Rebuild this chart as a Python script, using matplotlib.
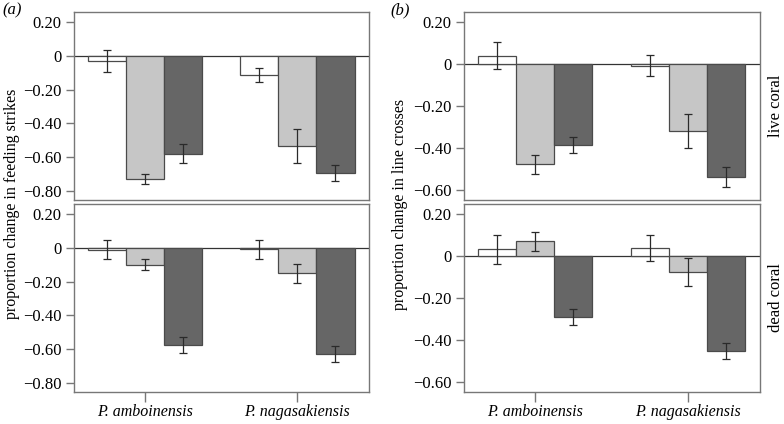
import matplotlib
matplotlib.use("Agg")
import matplotlib.pyplot as plt
from matplotlib import font_manager
import numpy as np

_installed = {f.name for f in font_manager.fontManager.ttflist}
_serif = next((n for n in ["Liberation Serif", "Tinos", "Times New Roman", "TeX Gyre Termes",
                           "Nimbus Roman", "STIXGeneral"] if n in _installed), "DejaVu Serif")
plt.rcParams['font.family'] = [_serif, 'DejaVu Serif']
plt.rcParams['axes.unicode_minus'] = True

species = ["P. amboinensis", "P. nagasakiensis"]
tick_vals = {"a": [0.2, 0, -0.2, -0.4, -0.6, -0.8], "b": [0.2, 0, -0.2, -0.4, -0.6]}
tick_labels = {"a": ["0.20", "0", "−0.20", "−0.40", "−0.60", "−0.80"],
               "b": ["0.20", "0", "−0.20", "−0.40", "−0.60"]}

# panel (a) feeding strikes, live coral
a_live_white = [-0.032, -0.113]
a_live_light = [-0.730, -0.533]
a_live_dark = [-0.580, -0.693]
a_live_white_err = [0.065, 0.043]
a_live_light_err = [0.028, 0.102]
a_live_dark_err = [0.058, 0.048]
# panel (a) feeding strikes, dead coral
a_dead_white = [-0.010, -0.008]
a_dead_light = [-0.099, -0.150]
a_dead_dark = [-0.578, -0.630]
a_dead_white_err = [0.058, 0.056]
a_dead_light_err = [0.035, 0.057]
a_dead_dark_err = [0.048, 0.047]
# panel (b) line crosses, live coral
b_live_white = [0.039, -0.009]
b_live_light = [-0.476, -0.318]
b_live_dark = [-0.384, -0.537]
b_live_white_err = [0.066, 0.051]
b_live_light_err = [0.044, 0.079]
b_live_dark_err = [0.038, 0.047]
# panel (b) line crosses, dead coral
b_dead_white = [0.030, 0.035]
b_dead_light = [0.068, -0.077]
b_dead_dark = [-0.291, -0.449]
b_dead_white_err = [0.069, 0.061]
b_dead_light_err = [0.044, 0.065]
b_dead_dark_err = [0.039, 0.038]

colors = ["white", "#c6c6c6", "#666666"]
edge = "#4a4a4a"
spine_c = "#777777"
FS = 11.5

fig = plt.figure(figsize=(7.84, 4.24), dpi=100)
W, H = 784, 424

def axes_px(x0, x1, y0, y1):
    return fig.add_axes([x0 / W, 1 - y1 / H, (x1 - x0) / W, (y1 - y0) / H])

def draw(ax, series, errs, ylim, panel, bottom):
    x = np.arange(1, len(species) + 1)
    width = 0.25
    offs = [-width, 0, width]
    ax.axhline(0, color="#333333", lw=0.9, zorder=1)
    for vals, er, c, o in zip(series, errs, colors, offs):
        ax.bar(x + o, vals, width=width, color=c, edgecolor=edge, linewidth=0.9, zorder=2)
        ax.errorbar(x + o, vals, yerr=er, fmt="none", ecolor="#2a2a2a",
                    elinewidth=0.9, capsize=3, capthick=0.9, zorder=3)
    ax.set_xlim(0.535, 2.47)
    ax.set_ylim(*ylim)
    ax.set_yticks(tick_vals[panel])
    ax.set_yticklabels(tick_labels[panel], fontsize=12)
    for s in ax.spines.values():
        s.set_color(spine_c)
        s.set_linewidth(1.0)
    ax.tick_params(axis="y", direction="out", length=6, width=1, color=spine_c, pad=3)
    if bottom:
        ax.set_xticks(x)
        ax.set_xticklabels(species, fontsize=FS, style="italic")
        ax.tick_params(axis="x", direction="out", length=7, width=1, color=spine_c, pad=1.5)
    else:
        ax.set_xticks([])

ylim_a = (-0.855, 0.26)
ylim_b = (-0.645, 0.245)

ax1 = axes_px(74, 369, 12, 200)
ax2 = axes_px(74, 369, 204, 392)
ax3 = axes_px(464, 760, 12, 200)
ax4 = axes_px(464, 760, 204, 392)

draw(ax1, [a_live_white, a_live_light, a_live_dark],
     [a_live_white_err, a_live_light_err, a_live_dark_err], ylim_a, "a", False)
draw(ax2, [a_dead_white, a_dead_light, a_dead_dark],
     [a_dead_white_err, a_dead_light_err, a_dead_dark_err], ylim_a, "a", True)
draw(ax3, [b_live_white, b_live_light, b_live_dark],
     [b_live_white_err, b_live_light_err, b_live_dark_err], ylim_b, "b", False)
draw(ax4, [b_dead_white, b_dead_light, b_dead_dark],
     [b_dead_white_err, b_dead_light_err, b_dead_dark_err], ylim_b, "b", True)

fig.text(12 / W, 1 - 204 / H, "proportion change in feeding strikes", rotation=90,
         ha="center", va="center", fontsize=FS)
fig.text(400 / W, 1 - 204 / H, "proportion change in line crosses", rotation=90,
         ha="center", va="center", fontsize=FS)
fig.text(776 / W, 1 - 106 / H, "live coral", rotation=90, ha="center", va="center", fontsize=12)
fig.text(776 / W, 1 - 298 / H, "dead coral", rotation=90, ha="center", va="center", fontsize=12)
fig.text(2 / W, 1 - 10 / H, "(a)", style="italic", ha="left", va="center", fontsize=12)
fig.text(390 / W, 1 - 10 / H, "(b)", style="italic", ha="left", va="center", fontsize=12)

fig.savefig("out.png", dpi=100)
